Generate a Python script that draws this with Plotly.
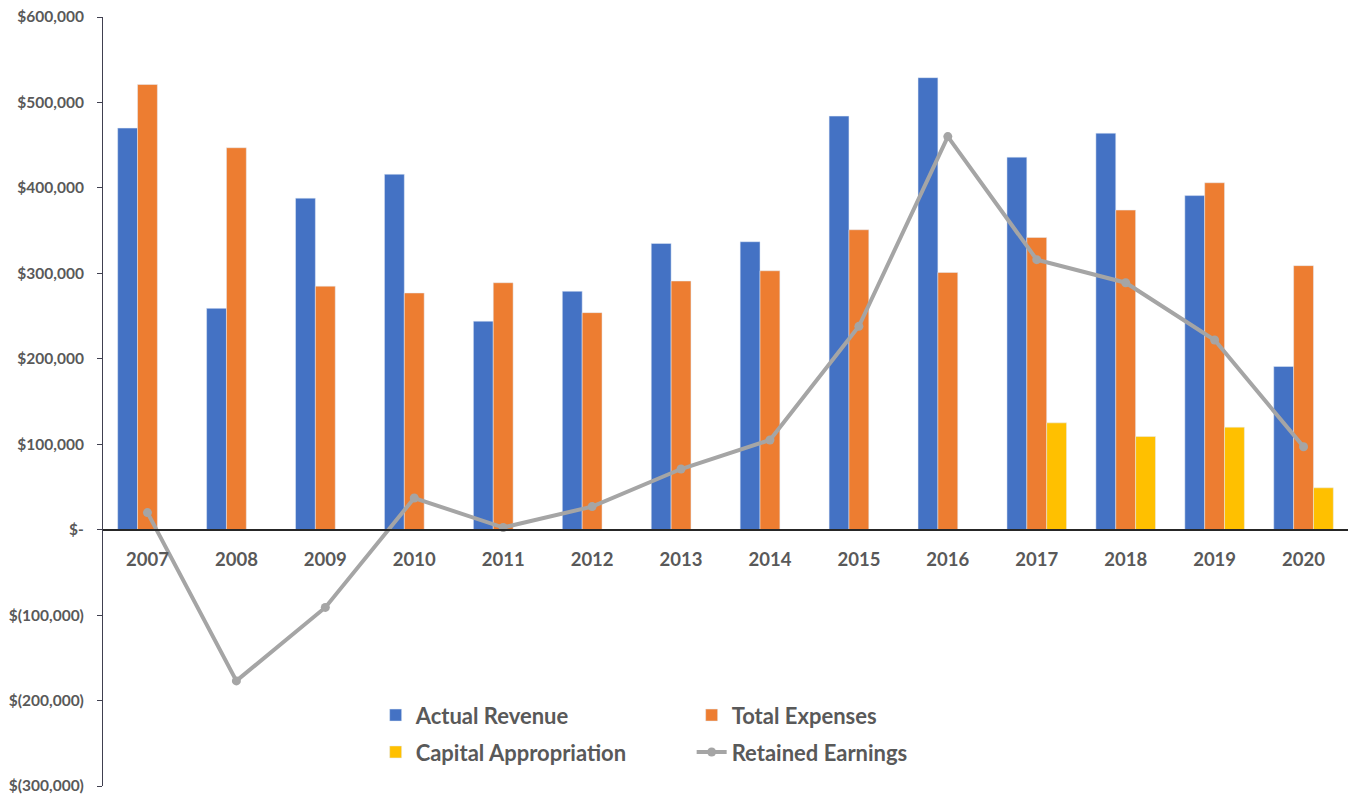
import plotly.graph_objects as go

years = ["2007", "2008", "2009", "2010", "2011", "2012", "2013", "2014",
         "2015", "2016", "2017", "2018", "2019", "2020"]
actual_revenue = [470000, 259000, 388000, 416000, 244000, 279000, 335000, 337000,
                  484000, 529000, 436000, 464000, 391000, 191000]
total_expenses = [521000, 447000, 285000, 277000, 289000, 254000, 291000, 303000,
                  351000, 301000, 342000, 374000, 406000, 309000]
capital_appropriation = [0, 0, 0, 0, 0, 0, 0, 0, 0, 0, 125000, 109000, 120000, 49000]
retained_earnings = [20000, -177000, -91000, 37000, 2500, 27000, 71000, 105000,
                     238000, 460000, 316000, 289000, 222000, 97000]
y_tickvals = [600000, 500000, 400000, 300000, 200000, 100000, 0, -100000, -200000, -300000]
y_ticktext = ["$600,000", "$500,000", "$400,000", "$300,000", "$200,000", "$100,000",
              "$-", "$(100,000)", "$(200,000)", "$(300,000)"]

FONT = "Lato"
TXT = "#595959"

fig = go.Figure()
fig.add_trace(go.Bar(x=years, y=actual_revenue, name="Actual Revenue",
                     marker_color="#4472C4", legend="legend"))
fig.add_trace(go.Bar(x=years, y=total_expenses, name="Total Expenses",
                     marker_color="#ED7D31", legend="legend"))
fig.add_trace(go.Bar(x=years, y=capital_appropriation, name="Capital Appropriation",
                     marker_color="#FFC000", legend="legend2"))
fig.add_trace(go.Scatter(x=years, y=retained_earnings, name="Retained Earnings",
                         mode="lines+markers",
                         line=dict(color="#A5A5A5", width=4),
                         marker=dict(color="#A5A5A5", size=9),
                         legend="legend2"))

legend_common = dict(orientation="h", xanchor="left", yanchor="middle",
                     font=dict(family=FONT, size=22, color=TXT, weight="bold"),
                     bgcolor="rgba(0,0,0,0)", entrywidth=271, entrywidthmode="pixels",
                     traceorder="normal")

fig.update_layout(
    width=1355, height=801,
    margin=dict(l=103, r=7, t=17, b=12),
    paper_bgcolor="white", plot_bgcolor="white",
    barmode="group", bargap=0.33, bargroupgap=0,
    font=dict(family=FONT, color=TXT),
    showlegend=True,
    legend=dict(x=0.219, y=0.092, **legend_common),
    legend2=dict(x=0.219, y=0.044, **legend_common),
    xaxis=dict(
        type="category",
        range=[-0.5, 13.5], autorange=False,
        anchor="free", position=1/3,
        showline=True, linecolor="#262626", linewidth=1.5,
        ticks="", showgrid=False, zeroline=False,
        tickfont=dict(family=FONT, size=18.5, color=TXT, weight="bold"),
        ticklabelstandoff=13,
    ),
    yaxis=dict(
        range=[-300000, 600000], domain=[0, 1],
        tickvals=y_tickvals, ticktext=y_ticktext,
        showline=True, linecolor="#404050", linewidth=1,
        ticks="outside", ticklen=5, tickcolor="#404050",
        showgrid=False, zeroline=False,
        tickfont=dict(family=FONT, size=15.5, color=TXT, weight="bold"),
        ticklabelstandoff=10,
    ),
)

fig.write_html("out.html")
